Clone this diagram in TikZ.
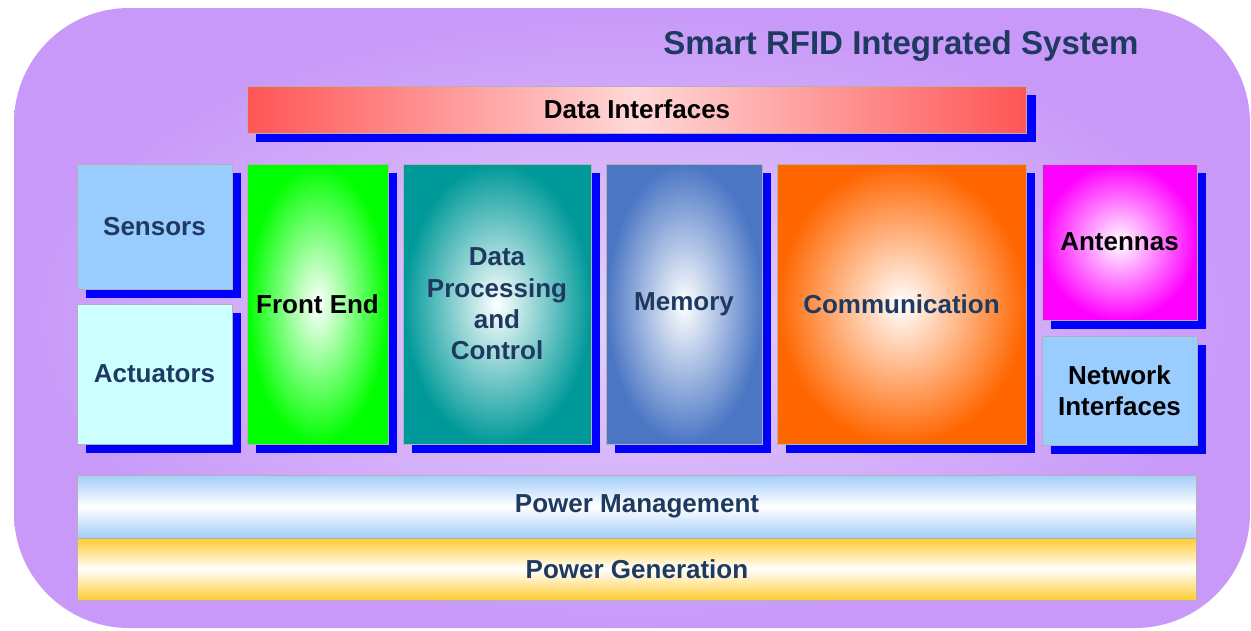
\documentclass[tikz,border=0pt]{standalone}
\usepackage{fontspec}
\setmainfont{Liberation Sans}
\usetikzlibrary{shadows}

\definecolor{navy}{HTML}{1F3A60}
\definecolor{lilac}{HTML}{C899F9}
\definecolor{lilaclight}{HTML}{E6D0FC}
\definecolor{skyblue}{HTML}{99CCFF}
\definecolor{paleaqua}{HTML}{CCFFFF}
\definecolor{teal}{HTML}{009999}
\definecolor{steel}{HTML}{4A76C4}
\definecolor{orangefill}{HTML}{FF6600}
\definecolor{barred}{HTML}{FF5555}
\definecolor{barpink}{HTML}{FFD8D8}
\definecolor{mgmtblue}{HTML}{A3CDF9}
\definecolor{gold}{HTML}{FFCC33}

\tikzset{
    block/.style={rectangle, draw=gray!60, line width=0.5pt, inner sep=0pt,
        align=center, text=navy,
        font=\fontsize{14.8}{17.8}\selectfont\bfseries},
    shadowed/.style={drop shadow={shadow xshift=0.18cm, shadow yshift=-0.18cm,
        fill=blue, opacity=1}},
    glow/.style={inner color=white, outer color=#1}
}

\begin{document}
\begin{tikzpicture}[x=0.02cm, y=-0.02cm]
    \useasboundingbox (0,0) rectangle (1251,630);
    \shade[inner color=lilaclight, outer color=lilac, rounded corners=2.3cm]
        (14,8) rectangle (1250,628);

    \node[anchor=east, inner sep=0pt, text=navy,
        font=\fontsize{18.8}{20}\selectfont\bfseries] (title) at (1139,46)
        {Smart RFID Integrated System};

    \node[block, shadowed, text=black, minimum width=15.6cm, minimum height=0.94cm,
        left color=barred, right color=barred, middle color=barpink]
        (datain) at (637,109.5) {Data Interfaces};

    \node[block, shadowed, fill=skyblue, minimum width=3.1cm, minimum height=2.5cm]
        (sensors) at (154.5,226.5) {Sensors};
    \node[block, shadowed, fill=paleaqua, minimum width=3.1cm, minimum height=2.8cm]
        (actuators) at (154.5,374) {Actuators};

    \node[block, shadowed, glow=green, text=black, minimum width=2.82cm, minimum height=5.6cm]
        (frontend) at (317.5,304) {Front End};
    \node[block, shadowed, glow=teal, minimum width=3.76cm, minimum height=5.6cm]
        (dataproc) at (497,304) {Data\\Processing\\and\\Control};
    \node[block, shadowed, glow=steel, minimum width=3.12cm, minimum height=5.6cm]
        (memory) at (684,304) {Memory};
    \node[block, shadowed, glow=orangefill, minimum width=4.98cm, minimum height=5.6cm]
        (comm) at (901.5,304) {Communication};

    \node[block, shadowed, glow=magenta, text=black, minimum width=3.1cm, minimum height=3.12cm]
        (antennas) at (1119.5,242) {Antennas};
    \node[block, shadowed, fill=skyblue, text=black, minimum width=3.1cm, minimum height=2.18cm]
        (netif) at (1119.5,390.5) {Network\\Interfaces};

    \node[block, minimum width=22.4cm, minimum height=1.26cm,
        top color=mgmtblue, bottom color=mgmtblue, middle color=white]
        (powermgmt) at (637,506.5) {Power Management};
    \node[block, minimum width=22.4cm, minimum height=1.24cm,
        top color=gold, bottom color=gold, middle color=white]
        (powergen) at (637,569) {Power Generation};
\end{tikzpicture}
\end{document}
